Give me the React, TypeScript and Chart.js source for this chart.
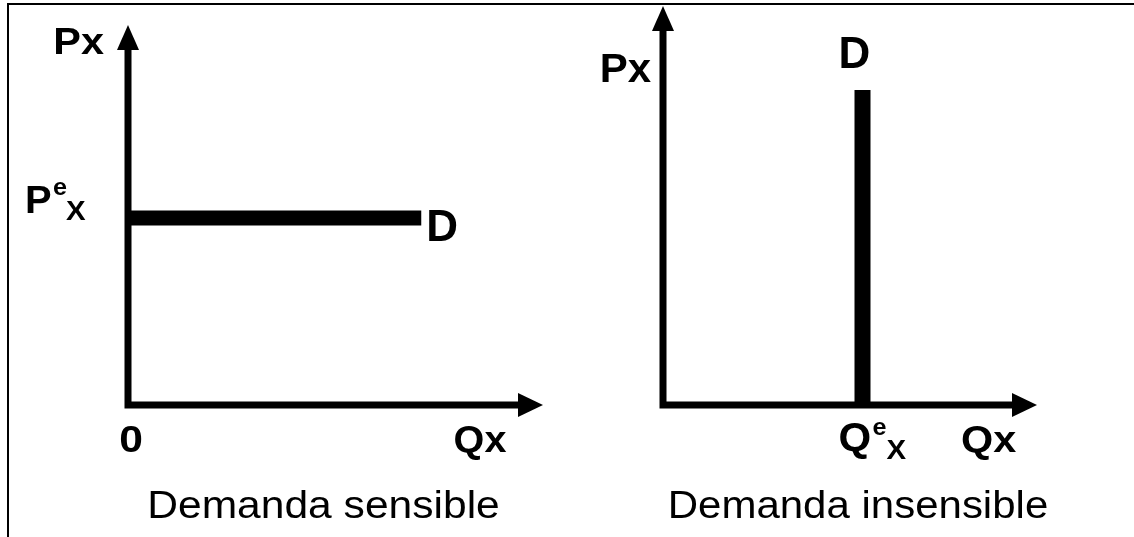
import React, { useEffect, useRef } from "react";
import { Chart, registerables } from "chart.js";

Chart.register(...registerables);

const FONT = "'Liberation Sans', Arial, Helvetica, sans-serif";

// Left panel: perfectly elastic demand ("Demanda sensible")
const sensibleQ = [0, 7.5];
const sensibleP = [5.25, 5.25];

// Right panel: perfectly inelastic demand ("Demanda insensible")
const insensibleQ = [5.7, 5.7];
const insensibleP = [0, 8.4];

// Text
const yAxisLabel = "Px";
const xAxisLabel = "Qx";
const originLabel = "0";
const demandLabel = "D";
const panelTitles = ["Demanda sensible", "Demanda insensible"];

const axesPlugin = {
  id: "arrowAxes",
  afterDatasetsDraw(chart: any) {
    const { ctx, chartArea: a } = chart;
    const w = 7;
    const len = 24;
    const half = 11;
    ctx.save();
    ctx.fillStyle = "#000";
    ctx.strokeStyle = "#000";
    ctx.lineWidth = w;
    ctx.lineCap = "butt";
    ctx.beginPath();
    ctx.moveTo(a.left, a.bottom + w / 2);
    ctx.lineTo(a.left, a.top + 1);
    ctx.moveTo(a.left - w / 2, a.bottom);
    ctx.lineTo(a.right - 1, a.bottom);
    ctx.stroke();
    ctx.beginPath();
    ctx.moveTo(a.left, a.top - len);
    ctx.lineTo(a.left - half, a.top + 1);
    ctx.lineTo(a.left + half, a.top + 1);
    ctx.closePath();
    ctx.fill();
    ctx.beginPath();
    ctx.moveTo(a.right + len, a.bottom);
    ctx.lineTo(a.right - 1, a.bottom - half - 1);
    ctx.lineTo(a.right - 1, a.bottom + half + 1);
    ctx.closePath();
    ctx.fill();
    ctx.restore();
  },
};

function txt(
  ctx: CanvasRenderingContext2D,
  s: string,
  x: number,
  y: number,
  size: number,
  bold: boolean,
  align: CanvasTextAlign = "left",
  sx = 1
) {
  ctx.save();
  ctx.font = `${bold ? "bold " : ""}${size}px ${FONT}`;
  ctx.textAlign = align;
  ctx.textBaseline = "alphabetic";
  ctx.fillStyle = "#000";
  ctx.translate(x, y);
  ctx.scale(sx, 1);
  ctx.fillText(s, 0, 0);
  ctx.restore();
}

function baseOptions(padding: any) {
  return {
    responsive: false,
    animation: false as const,
    layout: { padding },
    plugins: { legend: { display: false }, tooltip: { enabled: false }, title: { display: false } },
    scales: {
      x: { type: "linear" as const, min: 0, max: 10, display: false },
      y: { type: "linear" as const, min: 0, max: 10, display: false },
    },
    elements: { point: { radius: 0 } },
  };
}

function makeDataset(q: number[], p: number[], width: number) {
  return {
    data: q.map((v, i) => ({ x: v, y: p[i] })),
    borderColor: "#000",
    backgroundColor: "#000",
    borderWidth: width,
    borderCapStyle: "butt" as const,
    pointRadius: 0,
    fill: false,
    tension: 0,
    clip: false as const,
  };
}

export default function App() {
  const leftRef = useRef<HTMLCanvasElement>(null);
  const rightRef = useRef<HTMLCanvasElement>(null);

  useEffect(() => {
    document.body.style.margin = "0";
    const leftLabels = {
      id: "leftLabels",
      afterDraw(chart: any) {
        const { ctx, chartArea: a, scales } = chart;
        const py = scales.y.getPixelForValue(sensibleP[0]);
        const qEnd = scales.x.getPixelForValue(sensibleQ[1]);
        txt(ctx, yAxisLabel, a.left - 24, a.top + 5, 37, true, "right", 1.12);
        const x0 = a.left - 103;
        txt(ctx, "P", x0, py - 5, 38, true, "left", 1.05);
        txt(ctx, "e", x0 + 28, py - 23, 24, true, "left", 1.05);
        txt(ctx, "X", x0 + 41, py + 2, 28, true, "left", 1.05);
        txt(ctx, demandLabel, qEnd + 5, py + 23, 44, true, "left", 1.0);
        txt(ctx, originLabel, a.left + 3, a.bottom + 47, 37, true, "center", 1.15);
        txt(ctx, xAxisLabel, a.right - 39, a.bottom + 47, 36, true, "center", 1.1);
        txt(ctx, panelTitles[0], (a.left + a.right) / 2, 518, 38, false, "center", 1.12);
      },
    };
    const rightLabels = {
      id: "rightLabels",
      afterDraw(chart: any) {
        const { ctx, chartArea: a, scales } = chart;
        const qx = scales.x.getPixelForValue(insensibleQ[0]);
        const topY = scales.y.getPixelForValue(insensibleP[1]);
        txt(ctx, yAxisLabel, a.left - 12, topY - 8, 40, true, "right", 1.05);
        txt(ctx, demandLabel, qx - 8, topY - 22, 44, true, "center", 1.0);
        const x0 = qx - 24;
        txt(ctx, "Q", x0, a.bottom + 46, 40, true, "left", 1.05);
        txt(ctx, "e", x0 + 34, a.bottom + 30, 24, true, "left", 1.05);
        txt(ctx, "X", x0 + 48, a.bottom + 54, 28, true, "left", 1.05);
        txt(ctx, xAxisLabel, a.right - 52, a.bottom + 47, 36, true, "left", 1.15);
        txt(ctx, panelTitles[1], a.right - 155, 518, 38, false, "center", 1.105);
      },
    };

    const left = new Chart(leftRef.current!, {
      type: "line",
      data: { datasets: [makeDataset(sensibleQ, sensibleP, 15)] },
      options: baseOptions({ left: 128, top: 49, right: 48, bottom: 132 }),
      plugins: [axesPlugin, leftLabels],
    });
    const right = new Chart(rightRef.current!, {
      type: "line",
      data: { datasets: [makeDataset(insensibleQ, insensibleP, 16)] },
      options: baseOptions({ left: 96, top: 30, right: 121, bottom: 132 }),
      plugins: [axesPlugin, rightLabels],
    });
    return () => {
      left.destroy();
      right.destroy();
    };
  }, []);

  return (
    <div style={{ position: "absolute", left: 0, top: 0, width: 1134, height: 537, overflow: "hidden", background: "#fff" }}>
      <div
        style={{
          position: "absolute",
          left: 7,
          top: 3,
          width: 1140,
          height: 540,
          borderTop: "2px solid #000",
          borderLeft: "2px solid #000",
        }}
      />
      <canvas ref={leftRef} width={567} height={537} style={{ position: "absolute", left: 0, top: 0, display: "block" }} />
      <canvas ref={rightRef} width={567} height={537} style={{ position: "absolute", left: 567, top: 0, display: "block" }} />
    </div>
  );
}
